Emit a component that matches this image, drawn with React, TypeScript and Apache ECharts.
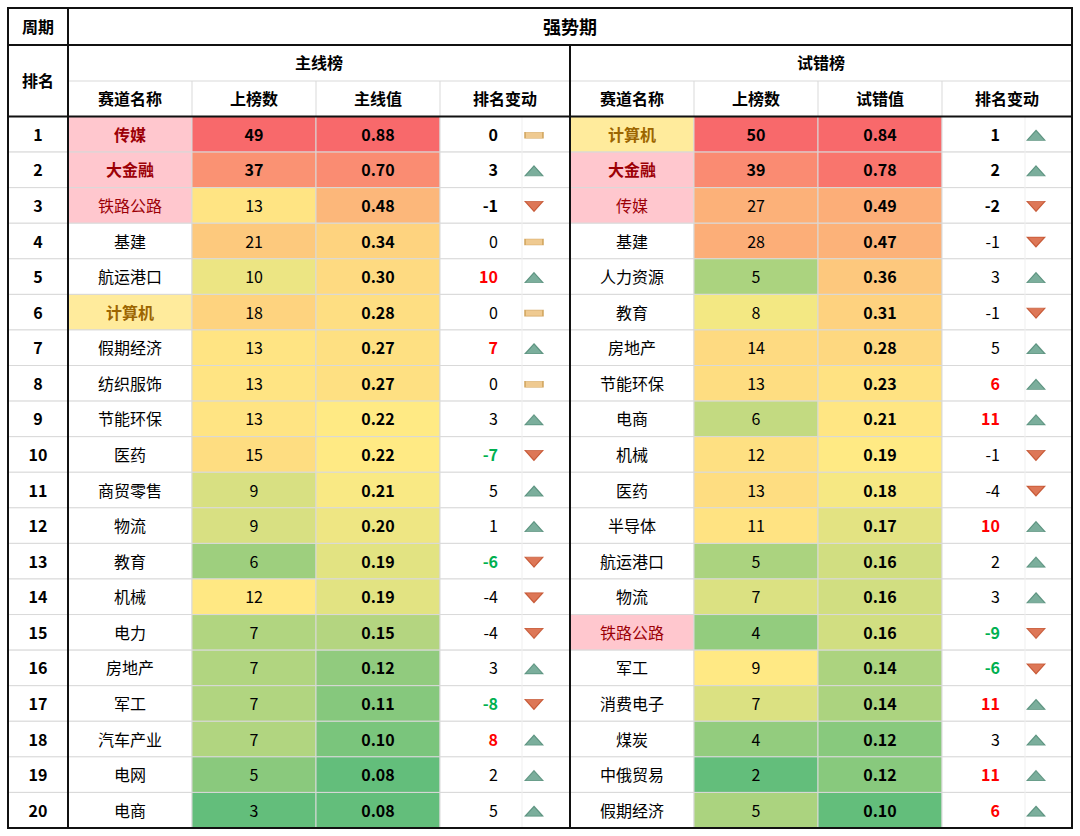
import React, { useEffect, useRef } from "react";
import * as echarts from "echarts";

// ---------------- data ----------------
const periodHeader = "周期";
const periodName = "强势期";
const rankHeader = "排名";
const boardNames = ["主线榜", "试错榜"];
const mainColHeaders = ["赛道名称", "上榜数", "主线值", "排名变动"];
const trialColHeaders = ["赛道名称", "上榜数", "试错值", "排名变动"];

const ranks = [1, 2, 3, 4, 5, 6, 7, 8, 9, 10, 11, 12, 13, 14, 15, 16, 17, 18, 19, 20];

const mainNames = ["传媒", "大金融", "铁路公路", "基建", "航运港口", "计算机", "假期经济", "纺织服饰", "节能环保", "医药",
  "商贸零售", "物流", "教育", "机械", "电力", "房地产", "军工", "汽车产业", "电网", "电商"];
const mainCounts = [49, 37, 13, 21, 10, 18, 13, 13, 13, 15, 9, 9, 6, 12, 7, 7, 7, 7, 5, 3];
const mainValues = [0.88, 0.70, 0.48, 0.34, 0.30, 0.28, 0.27, 0.27, 0.22, 0.22, 0.21, 0.20, 0.19, 0.19, 0.15, 0.12, 0.11, 0.10, 0.08, 0.08];
const mainChanges = [0, 3, -1, 0, 10, 0, 7, 0, 3, -7, 5, 1, -6, -4, -4, 3, -8, 8, 2, 5];
const mainHighlights = ["redBold", "redBold", "red", "", "", "goldBold", "", "", "", "", "", "", "", "", "", "", "", "", "", ""];

const trialNames = ["计算机", "大金融", "传媒", "基建", "人力资源", "教育", "房地产", "节能环保", "电商", "机械",
  "医药", "半导体", "航运港口", "物流", "铁路公路", "军工", "消费电子", "煤炭", "中俄贸易", "假期经济"];
const trialCounts = [50, 39, 27, 28, 5, 8, 14, 13, 6, 12, 13, 11, 5, 7, 4, 9, 7, 4, 2, 5];
const trialValues = [0.84, 0.78, 0.49, 0.47, 0.36, 0.31, 0.28, 0.23, 0.21, 0.19, 0.18, 0.17, 0.16, 0.16, 0.16, 0.14, 0.14, 0.12, 0.12, 0.10];
const trialChanges = [1, 2, -2, -1, 3, -1, 5, 6, 11, -1, -4, 10, 2, 3, -9, -6, 11, 3, 11, 6];
const trialHighlights = ["goldBold", "redBold", "red", "", "", "", "", "", "", "", "", "", "", "", "red", "", "", "", "", ""];

// ---------------- layout & style ----------------
const FONT = "'Noto Sans CJK SC', 'Noto Sans', sans-serif";
const COLX = [8, 68, 192, 316, 440, 570, 694, 818, 942, 1072];
const Y_TOP = 8;
const Y_H1 = 45;
const Y_H2 = 81;
const Y_BODY = 116.5;
const Y_END = 828;
const GRID_LINE = "#D9D9D9";

const C_MIN = [99, 190, 123];
const C_MID = [255, 235, 132];
const C_MAX = [248, 105, 107];

function percentile(arr: number[], p: number) {
  const s = [...arr].sort((a, b) => a - b);
  const r = p * (s.length - 1);
  const lo = Math.floor(r);
  const hi = Math.ceil(r);
  return s[lo] + (s[hi] - s[lo]) * (r - lo);
}
function mix(a: number[], b: number[], t: number) {
  const c = a.map((v, i) => Math.round(v + (b[i] - v) * t));
  return `rgb(${c[0]},${c[1]},${c[2]})`;
}
function scaleColors(arr: number[]) {
  const mn = Math.min(...arr);
  const mx = Math.max(...arr);
  const md = percentile(arr, 0.5);
  return arr.map((v) => (v <= md ? mix(C_MIN, C_MID, md === mn ? 1 : (v - mn) / (md - mn)) : mix(C_MID, C_MAX, (v - md) / (mx - md))));
}

const HL: Record<string, { bg: string; color: string; bold: boolean }> = {
  "": { bg: "#FFFFFF", color: "#000000", bold: false },
  redBold: { bg: "#FFC7CE", color: "#9C0006", bold: true },
  red: { bg: "#FFC7CE", color: "#9C0006", bold: false },
  goldBold: { bg: "#FFEB9C", color: "#9C6500", bold: true },
};

type Cell = { bg: string; text: string; color: string; bold: boolean; textX?: number; align?: string };

// a table column drawn as a custom series over a category grid
function cellSeries(gridIndex: number, values: any[], cell: (i: number) => Cell) {
  return {
    type: "custom",
    xAxisIndex: gridIndex,
    yAxisIndex: gridIndex,
    silent: true,
    data: values.map((v, i) => [0, i, v]),
    renderItem: (params: any, api: any) => {
      const i = params.dataIndex;
      const c = cell(i);
      const center = api.coord([0, api.value(1)]);
      const size = api.size([1, 1]);
      const x0 = center[0] - size[0] / 2;
      const y0 = center[1] - size[1] / 2;
      return {
        type: "group",
        children: [
          {
            type: "rect",
            shape: { x: x0, y: y0, width: size[0], height: size[1] },
            style: { fill: c.bg, stroke: GRID_LINE, lineWidth: 1 },
          },
          {
            type: "text",
            x: c.textX !== undefined ? x0 + c.textX : center[0],
            y: center[1] - 0.5,
            style: {
              text: c.text,
              fill: c.color,
              fontSize: 16,
              fontFamily: FONT,
              fontWeight: c.bold ? "bold" : "normal",
              align: c.align || "center",
              verticalAlign: "middle",
            },
          },
        ],
      };
    },
  };
}

function buildBoard(startGrid: number, names: string[], counts: number[], values: number[], changes: number[], hls: string[]) {
  const countColors = scaleColors(counts);
  const valueColors = scaleColors(values);
  const series: any[] = [];
  series.push(
    cellSeries(startGrid, names, (i) => {
      const h = HL[hls[i]];
      return { bg: h.bg, text: names[i], color: h.color, bold: h.bold };
    })
  );
  series.push(
    cellSeries(startGrid + 1, counts, (i) => ({ bg: countColors[i], text: String(counts[i]), color: "#000", bold: i < 2 }))
  );
  series.push(
    cellSeries(startGrid + 2, values, (i) => ({ bg: valueColors[i], text: values[i].toFixed(2), color: "#000", bold: true }))
  );
  series.push(
    cellSeries(startGrid + 3, changes, (i) => {
      const c = changes[i];
      return {
        bg: "#FFFFFF",
        text: String(c),
        color: c >= 6 ? "#FF0000" : c <= -6 ? "#00B050" : "#000",
        bold: i < 3 || Math.abs(c) >= 6,
        textX: 58,
        align: "right",
      };
    })
  );
  series.push({
    type: "scatter",
    xAxisIndex: startGrid + 3,
    yAxisIndex: startGrid + 3,
    silent: true,
    z: 5,
    symbolOffset: [29, 1],
    data: changes.map((c, i) => {
      if (c > 0)
        return { value: [0, i], symbol: "triangle", symbolSize: [18, 10], itemStyle: { color: "#5A9A83", borderColor: "#4A8670", borderWidth: 1 } };
      if (c < 0)
        return { value: [0, i], symbol: "triangle", symbolRotate: 180, symbolSize: [18, 10], itemStyle: { color: "#D4552D", borderColor: "#BE4722", borderWidth: 1 } };
      return { value: [0, i], symbol: "rect", symbolSize: [18, 6], itemStyle: { color: "#EBBD76", borderColor: "#CC9E52", borderWidth: 1 } };
    }),
  });
  return series;
}

export default function App() {
  const ref = useRef<HTMLDivElement>(null);
  useEffect(() => {
    if (!ref.current) return;
    const chart = echarts.init(ref.current, null, { renderer: "svg" });

    const grids: any[] = [];
    const xAxes: any[] = [];
    const yAxes: any[] = [];
    for (let i = 0; i < COLX.length - 1; i++) {
      grids.push({ left: COLX[i], top: Y_BODY, width: COLX[i + 1] - COLX[i], height: Y_END - Y_BODY, containLabel: false });
      xAxes.push({ type: "category", gridIndex: i, data: [""], show: false });
      yAxes.push({ type: "category", gridIndex: i, data: ranks.map(String), inverse: true, show: false });
    }

    const series: any[] = [];
    series.push(cellSeries(0, ranks, (i) => ({ bg: "#FFFFFF", text: String(ranks[i]), color: "#000", bold: true })));
    series.push(...buildBoard(1, mainNames, mainCounts, mainValues, mainChanges, mainHighlights));
    series.push(...buildBoard(5, trialNames, trialCounts, trialValues, trialChanges, trialHighlights));

    const txt = (text: string, x: number, y: number, size = 16) => ({
      type: "text",
      x,
      y: y - 1,
      z: 100,
      style: { text, fontSize: size, fontWeight: "bold", fontFamily: FONT, fill: "#000", align: "center", verticalAlign: "middle" },
    });
    const line = (x1: number, y1: number, x2: number, y2: number, stroke: string, lw: number) => ({
      type: "line",
      z: 100,
      shape: { x1, y1, x2, y2 },
      style: { stroke, lineWidth: lw },
    });

    const mid = (a: number, b: number) => (a + b) / 2;
    const graphics: any[] = [];
    graphics.push(txt(periodHeader, mid(COLX[0], COLX[1]), mid(Y_TOP, Y_H1)));
    graphics.push(txt(periodName, mid(COLX[1], COLX[9]), mid(Y_TOP, Y_H1), 18));
    graphics.push(txt(rankHeader, mid(COLX[0], COLX[1]), mid(Y_H1, Y_BODY)));
    graphics.push(txt(boardNames[0], mid(COLX[1], COLX[5]), mid(Y_H1, Y_H2)));
    graphics.push(txt(boardNames[1], mid(COLX[5], COLX[9]), mid(Y_H1, Y_H2)));
    mainColHeaders.forEach((h, i) => graphics.push(txt(h, mid(COLX[1 + i], COLX[2 + i]), mid(Y_H2, Y_BODY))));
    trialColHeaders.forEach((h, i) => graphics.push(txt(h, mid(COLX[5 + i], COLX[6 + i]), mid(Y_H2, Y_BODY))));

    // light header lines
    graphics.push(line(COLX[1], Y_H2, COLX[9], Y_H2, GRID_LINE, 1));
    [2, 3, 4, 6, 7, 8].forEach((k) => graphics.push(line(COLX[k], Y_H2, COLX[k], Y_BODY, GRID_LINE, 1)));
    // faint divider between change number and icon
    graphics.push(line(522, Y_BODY, 522, Y_END, "#EFEFEF", 1));
    graphics.push(line(1025, Y_BODY, 1025, Y_END, "#EFEFEF", 1));
    // thick lines
    graphics.push(line(COLX[0], Y_H1, COLX[9], Y_H1, "#111", 2));
    graphics.push(line(COLX[0], Y_BODY, COLX[9], Y_BODY, "#111", 2));
    graphics.push(line(COLX[1], Y_TOP, COLX[1], Y_END, "#111", 2));
    graphics.push(line(COLX[5], Y_H1, COLX[5], Y_END, "#111", 2));
    graphics.push({
      type: "rect",
      z: 101,
      shape: { x: COLX[0], y: Y_TOP, width: COLX[9] - COLX[0], height: Y_END - Y_TOP },
      style: { fill: "none", stroke: "#111", lineWidth: 2 },
    });

    chart.setOption({
      animation: false,
      backgroundColor: "#FFFFFF",
      grid: grids,
      xAxis: xAxes,
      yAxis: yAxes,
      series,
      graphic: graphics,
    });
    return () => chart.dispose();
  }, []);
  return <div ref={ref} style={{ position: "absolute", left: 0, top: 0, width: 1080, height: 836 }} />;
}
